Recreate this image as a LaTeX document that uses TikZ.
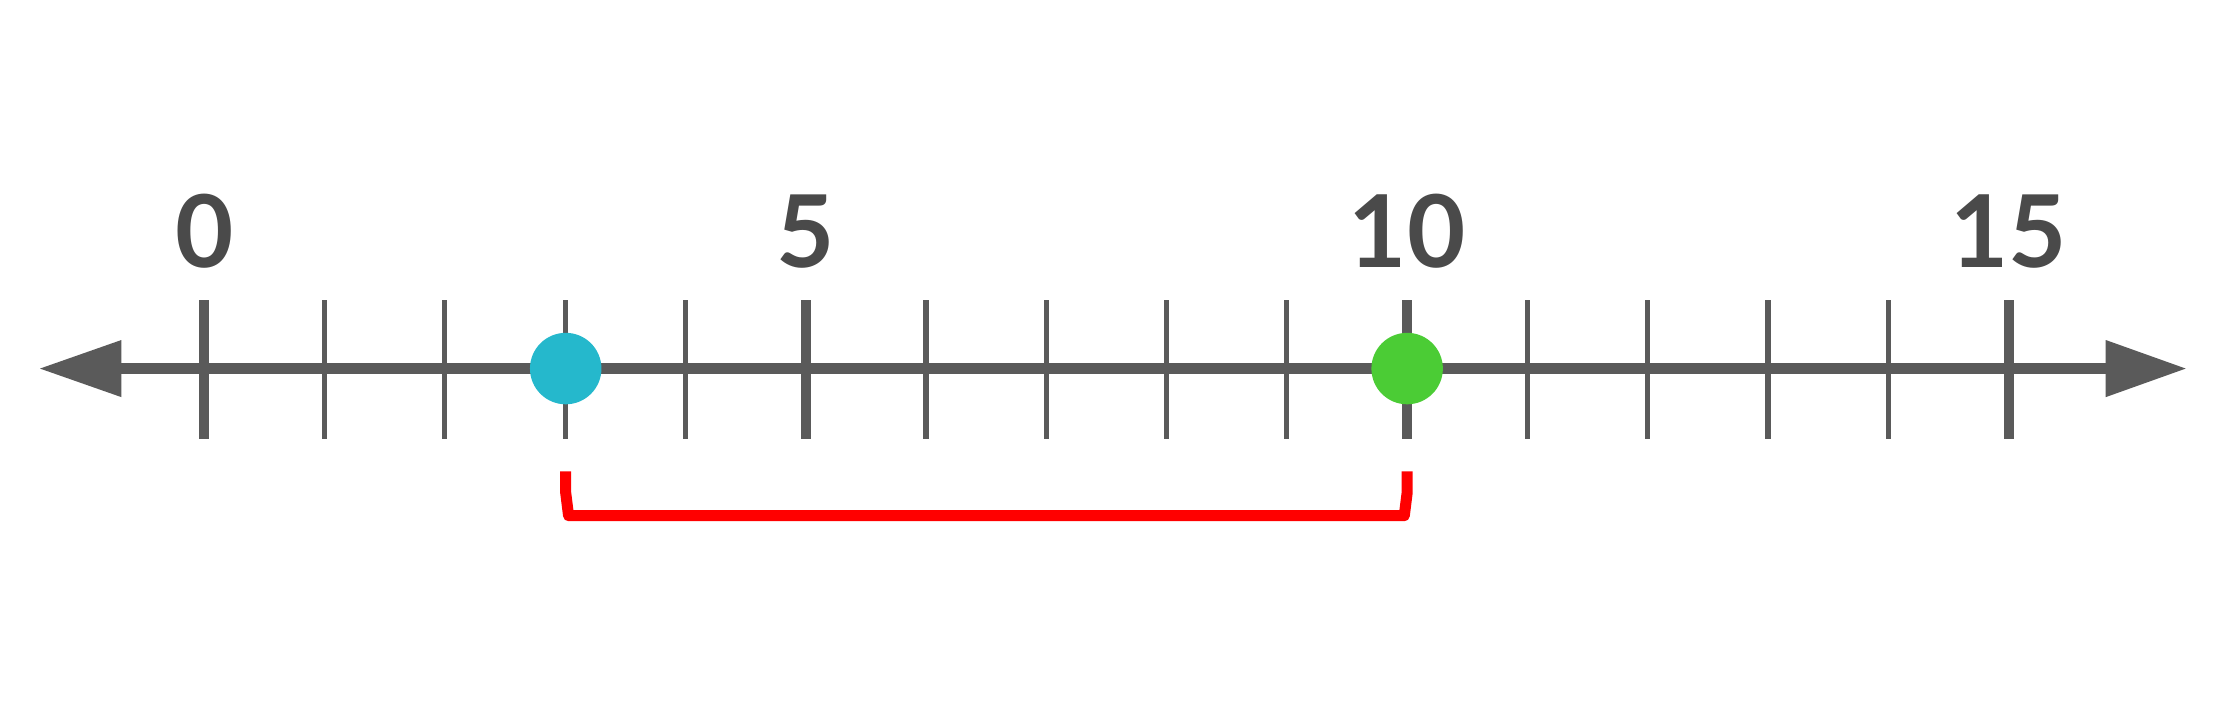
\documentclass[tikz,border=0pt]{standalone}
\usepackage{fontspec}
\setmainfont{Lato}
\definecolor{axis}{HTML}{5A5A5A}
\definecolor{lab}{HTML}{4A4A4A}
\definecolor{bluedot}{HTML}{25B8CC}
\definecolor{greendot}{HTML}{4BCC35}
\begin{document}
\begin{tikzpicture}[x=0.01cm,y=-0.01cm,
  minortick/.style={draw=axis,line width=1pt},
  majortick/.style={draw=axis,line width=2pt},
  numlab/.style={text=lab,font=\fontsize{20}{24}\selectfont\bfseries,anchor=base},
  dot/.style={circle,inner sep=0pt,minimum size=0.5cm}]
\useasboundingbox (0,0) rectangle (1568,494);
\fill[white] (0,0) rectangle (1568,494);
\coordinate (L) at (85,258);
\coordinate (R) at (1474,258);
\draw[axis,line width=2.3pt] (L) -- (R);
\fill[axis] (28,258) -- (85,238) -- (85,278) -- cycle;
\fill[axis] (1530,258) -- (1474,238) -- (1474,278) -- cycle;
\foreach \i in {0,...,15}{
  \pgfmathsetmacro{\xx}{143+84.2*\i}
  \pgfmathparse{mod(\i,5)==0 ? 1 : 0}
  \ifnum\pgfmathresult=1
    \draw[majortick] (\xx,210) -- (\xx,307);
  \else
    \draw[minortick] (\xx,210) -- (\xx,307);
  \fi
}
\node[numlab] (n0) at (143,187.5) {0};
\node[numlab] (n5) at (564,187.5) {5};
\node[numlab] (n10) at (985,187.5) {10};
\node[numlab] (n15) at (1406,187.5) {15};
\node[dot,fill=bluedot] (a) at (396,258) {};
\node[dot,fill=greendot] (b) at (985,258) {};
\coordinate (a1) at (396,330);
\coordinate (b1) at (985,330);
\draw[red,line width=2.2pt,line join=round] (a1) -- (396,345) -- (398,361) -- (983,361) -- (985,345) -- (b1);
\end{tikzpicture}
\end{document}
